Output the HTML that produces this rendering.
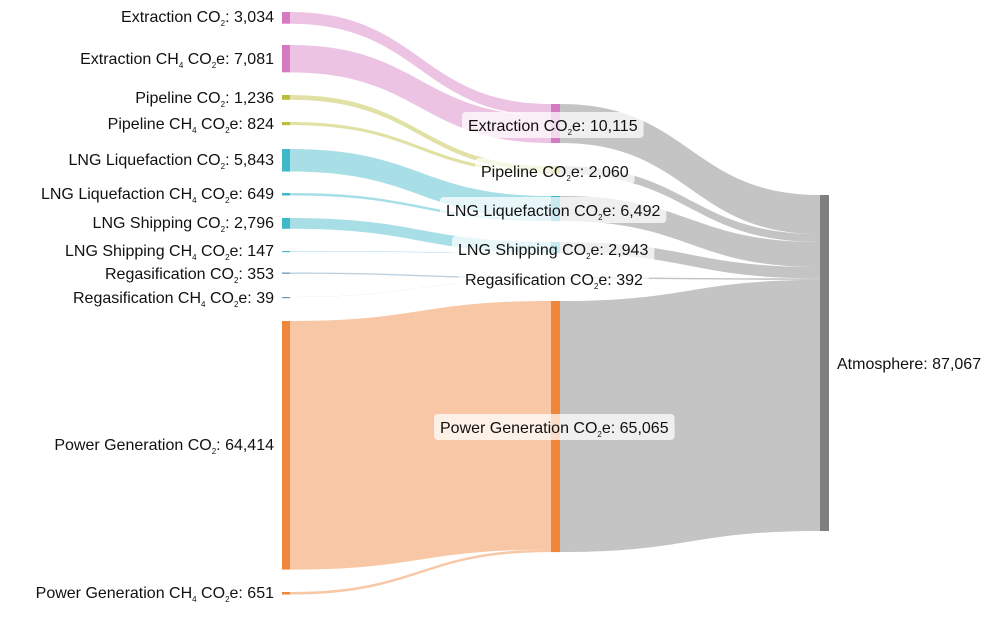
<!DOCTYPE html>
<html><head><meta charset="utf-8"><style>
body{margin:0;background:#fff;}
svg{display:block;font-family:"Liberation Sans",Arial,sans-serif;font-size:16px;}
.sub{font-size:8px;}
</style></head><body>
<svg id="s" width="1000" height="618" viewBox="0 0 1000 618">
<g id="links"></g>
<g id="nodes"></g>
<g id="lbl" fill="#111">
<text x="274" y="22" text-anchor="end">Extraction CO<tspan class="sub" dy="4">2</tspan><tspan dy="-4">: 3,034</tspan></text>
<text x="274" y="64" text-anchor="end">Extraction CH<tspan class="sub" dy="4">4</tspan><tspan dy="-4"> CO</tspan><tspan class="sub" dy="4">2</tspan><tspan dy="-4">e: 7,081</tspan></text>
<text x="274" y="103" text-anchor="end">Pipeline CO<tspan class="sub" dy="4">2</tspan><tspan dy="-4">: 1,236</tspan></text>
<text x="274" y="129" text-anchor="end">Pipeline CH<tspan class="sub" dy="4">4</tspan><tspan dy="-4"> CO</tspan><tspan class="sub" dy="4">2</tspan><tspan dy="-4">e: 824</tspan></text>
<text x="274" y="165" text-anchor="end">LNG Liquefaction CO<tspan class="sub" dy="4">2</tspan><tspan dy="-4">: 5,843</tspan></text>
<text x="274" y="199" text-anchor="end">LNG Liquefaction CH<tspan class="sub" dy="4">4</tspan><tspan dy="-4"> CO</tspan><tspan class="sub" dy="4">2</tspan><tspan dy="-4">e: 649</tspan></text>
<text x="274" y="228" text-anchor="end">LNG Shipping CO<tspan class="sub" dy="4">2</tspan><tspan dy="-4">: 2,796</tspan></text>
<text x="274" y="256" text-anchor="end">LNG Shipping CH<tspan class="sub" dy="4">4</tspan><tspan dy="-4"> CO</tspan><tspan class="sub" dy="4">2</tspan><tspan dy="-4">e: 147</tspan></text>
<text x="274" y="279" text-anchor="end">Regasification CO<tspan class="sub" dy="4">2</tspan><tspan dy="-4">: 353</tspan></text>
<text x="274" y="303" text-anchor="end">Regasification CH<tspan class="sub" dy="4">4</tspan><tspan dy="-4"> CO</tspan><tspan class="sub" dy="4">2</tspan><tspan dy="-4">e: 39</tspan></text>
<text x="274" y="450" text-anchor="end">Power Generation CO<tspan class="sub" dy="4">2</tspan><tspan dy="-4">: 64,414</tspan></text>
<text x="274" y="598" text-anchor="end">Power Generation CH<tspan class="sub" dy="4">4</tspan><tspan dy="-4"> CO</tspan><tspan class="sub" dy="4">2</tspan><tspan dy="-4">e: 651</tspan></text>
<text x="837" y="369">Atmosphere: 87,067</text>
</g>
<g id="mid" fill="#111"></g>
</svg>
<script>
var L=document.getElementById('links'),N=document.getElementById('nodes'),M=document.getElementById('mid');
var ns='http://www.w3.org/2000/svg';
function el(p,t,a){var e=document.createElementNS(ns,t);for(var k in a)e.setAttribute(k,a[k]);p.appendChild(e);return e;}
function link(x0,a0,a1,x1,b0,b1,c,op){var m=(x0+x1)/2;
el(L,'path',{d:'M'+x0+','+a0+'C'+m+','+a0+' '+m+','+b0+' '+x1+','+b0+'L'+x1+','+b1+'C'+m+','+b1+' '+m+','+a1+' '+x0+','+a1+'Z',fill:c,'fill-opacity':op});}
var k=336/87067;
var P='#d57ac0',Y='#bcbd3a',C='#3fb8c9',R='#6a9ab8',O='#f0863a';
var left=[[12,3034,P],[45,7081,P],[95,1236,Y],[122,824,Y],[149,5843,C],[193,649,C],[218,2796,C],[251,147,C],[272.5,353,R],[297,39,R],[321,64414,O],[592,651,O]];
var mid=[[104,10115,P],[166,2060,Y],[196,6492,C],[242,2943,C],[277.3,392,R],[301,65065,O]];
var ay=195;
for(var i=0;i<6;i++){var m=mid[i],off=m[0];
for(var j=0;j<2;j++){var l=left[i*2+j],h=l[1]*k;link(290,l[0],l[0]+h,551,off,off+h,l[2],0.45);off+=h;}
var h=m[1]*k;link(560,m[0],m[0]+h,820,ay,ay+h,'#c4c4c4',1);ay+=h;}
left.forEach(function(l){el(N,'rect',{x:282,y:l[0],width:8,height:Math.max(l[1]*k,1.2),fill:l[2]});});
mid.forEach(function(m){el(N,'rect',{x:551,y:m[0],width:9,height:Math.max(m[1]*k,1.5),fill:m[2]});});
el(N,'rect',{x:820,y:195,width:9,height:336,fill:'#7f7f7f'});
var labs=[['Extraction','10,115',125,468],['Pipeline','2,060',171,481],['LNG Liquefaction','6,492',210,446],['LNG Shipping','2,943',249,458],['Regasification','392',279,465],['Power Generation','65,065',427,440]];
labs.forEach(function(a){
var r=el(M,'rect',{x:a[3]-6,y:a[2]-13,width:10,height:26,rx:4,fill:'#fff','fill-opacity':0.72});
var t=el(M,'text',{x:a[3],y:a[2]+6});
t.innerHTML=a[0]+' CO<tspan class="sub" dy="4">2</tspan><tspan dy="-4">e: '+a[1]+'</tspan>';
var w=t.getComputedTextLength?t.getComputedTextLength():150;
r.setAttribute('width',w+12);
});
</script>
</body></html>
